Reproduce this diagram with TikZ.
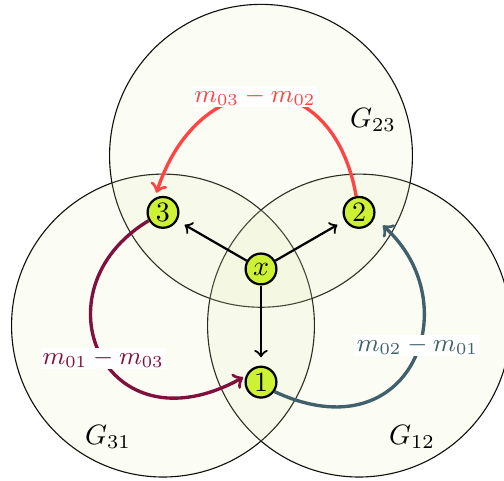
\documentclass[tikz,border=0pt]{standalone}
\definecolor{vennfill}{RGB}{226,234,176}
\definecolor{nodegreen}{RGB}{204,242,51}
\definecolor{redarc}{RGB}{255,68,68}
\definecolor{purplearc}{RGB}{128,16,60}
\definecolor{tealarc}{RGB}{64,96,108}

\begin{document}
\begin{tikzpicture}[
  vertex/.style = {circle, draw, thick, fill=nodegreen, minimum size=11pt, inner sep=0pt},
  spoke/.style = {->, thick, shorten >=3pt},
  diff/.style = {->, very thick, shorten >=2pt},
  difflabel/.style = {fill=white, inner sep=0.5pt, font=\small}
]
\def\R{1.9}
\def\D{1.42}
\useasboundingbox (-3.275,-2.66) rectangle (3.049,3.375);

%circles: outlines first, then the tint over them
\foreach \a in {90,210,330}
  \draw (\a:\D) circle (\R);
\foreach \a in {90,210,330}
  \fill[vennfill, fill opacity=0.14] (\a:\D) circle (\R);

%group names
\node (g23) at (1.405,1.87) {$G_{23}$};
\node (g31) at (-1.92,-2.108) {$G_{31}$};
\node (g12) at (1.895,-2.108) {$G_{12}$};

%vertices
\node[vertex] (x) at (0,0) {$x$};
\node[vertex] (v1) at (-90:\D) {1};
\node[vertex] (v2) at (30:\D) {2};
\node[vertex] (v3) at (150:\D) {3};

%draw edges
\draw[spoke] (x) -- (v1);
\draw[spoke] (x) -- (v2);
\draw[spoke] (x) -- (v3);

\draw[diff, redarc] (v2.100) .. controls +(100:1.75) and +(72:1.75) .. (v3.120)
  node[difflabel, pos=0.53] {$m_{03}-m_{02}$};
\draw[diff, purplearc, shorten >=1pt] (v3.210) .. controls +(211:1.7) and +(209:2.03) .. (v1.158)
  node[difflabel, pos=0.52] {$m_{01}-m_{03}$};
\draw[diff, tealarc, shorten >=4pt] (v1.-35) .. controls +(-25:1.9) and +(-42:1.6) .. (v2.-20)
  node[difflabel, pos=0.56] {$m_{02}-m_{01}$};
\end{tikzpicture}
\end{document}
